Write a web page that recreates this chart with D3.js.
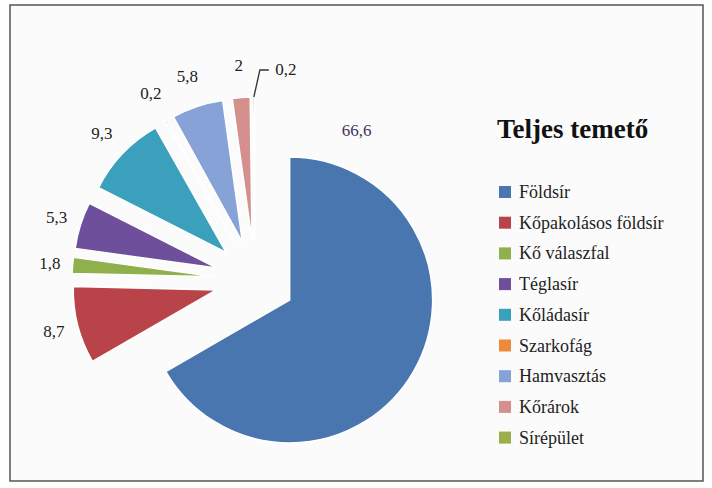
<!DOCTYPE html>
<html><head><meta charset="utf-8">
<script src="https://cdn.jsdelivr.net/npm/d3@7"></script>
<style>body{margin:0;background:#fff}svg{display:block}</style>
</head><body>
<script>
const categories = ["Földsír","Kőpakolásos földsír","Kő válaszfal","Téglasír","Kőládasír","Szarkofág","Hamvasztás","Kőrárok","Sírépület"];
const values = [66.6,8.7,1.8,5.3,9.3,0.2,5.8,2,0.2];
const valueLabels = ["66,6","8,7","1,8","5,3","9,3","0,2","5,8","2","0,2"];
const colors = ["#4a76b0","#b8444a","#8fb04a","#6e4f9c","#3aa0bb","#ee8a3a","#86a2d6","#d58f8c","#9bae4c"];
const title = "Teljes temető";

const W = 712, H = 488;
const svg = d3.select("body").append("svg").attr("width", W).attr("height", H);
svg.append("rect").attr("x",10).attr("y",5).attr("width",693).attr("height",476)
  .attr("fill","#fbfbfb").attr("stroke","#555").attr("stroke-width",1.5);

const cx = 255, cy = 280, R = 143, E = 40;
const pie = d3.pie().sort(null).value(d => d)(values);
const arc = d3.arc().innerRadius(0).outerRadius(R);
const dir = a => [Math.sin(a), -Math.cos(a)];

const g = svg.append("g").attr("transform", `translate(${cx},${cy})`);
pie.forEach((p, i) => {
  const m = (p.startAngle + p.endAngle) / 2;
  const [dx, dy] = dir(m);
  g.append("path").attr("d", arc(p)).attr("transform", `translate(${dx * E},${dy * E})`)
    .attr("fill", colors[i]).attr("stroke", "#fff").attr("stroke-width", 1.5);
});

// labels
const fontFam = "'Liberation Serif','DejaVu Serif',serif";
pie.forEach((p, i) => {
  const m = (p.startAngle + p.endAngle) / 2;
  const [dx, dy] = dir(m);
  const ax = dx * E, ay = dy * E;
  let lx, ly;
  if (i === 0) {
    const [ux, uy] = dir(21.6 * Math.PI / 180);
    lx = ax + ux * 182; ly = ay + uy * 182;
  } else if (i === values.length - 1) {
    const ex = ax + dx * R, ey = ay + dy * R;
    const tx = ex + 6, ty = ey - 27;
    g.append("path").attr("d", `M${ex},${ey}L${tx},${ty}L${tx + 9},${ty}`)
      .attr("fill","none").attr("stroke","#333").attr("stroke-width",1.3);
    lx = tx + 26; ly = ty - 1;
  } else {
    const d = R + 22 + 10 * Math.abs(dy);
    lx = ax + dx * d; ly = ay + dy * d;
  }
  g.append("text").attr("x", lx).attr("y", ly).attr("text-anchor","middle")
    .attr("dominant-baseline","central").attr("font-family", fontFam)
    .attr("font-size", 17).attr("fill", i === 0 ? "#3b3560" : "#222").text(valueLabels[i]);
});

// title & legend
svg.append("text").attr("x", 497).attr("y", 138).attr("font-family", fontFam)
  .attr("font-size", 27).attr("font-weight","bold").attr("fill","#111").text(title);

const lg = svg.append("g").attr("transform","translate(499,192)");
const step = 30.7;
categories.forEach((c, i) => {
  const row = lg.append("g").attr("transform", `translate(0,${i * step})`);
  row.append("rect").attr("x",0).attr("y",-6).attr("width",12).attr("height",12).attr("fill",colors[i]);
  row.append("text").attr("x",20).attr("y",0).attr("dominant-baseline","central")
    .attr("font-family", fontFam).attr("font-size",18).attr("fill","#222").text(c);
});
</script>
</body></html>
